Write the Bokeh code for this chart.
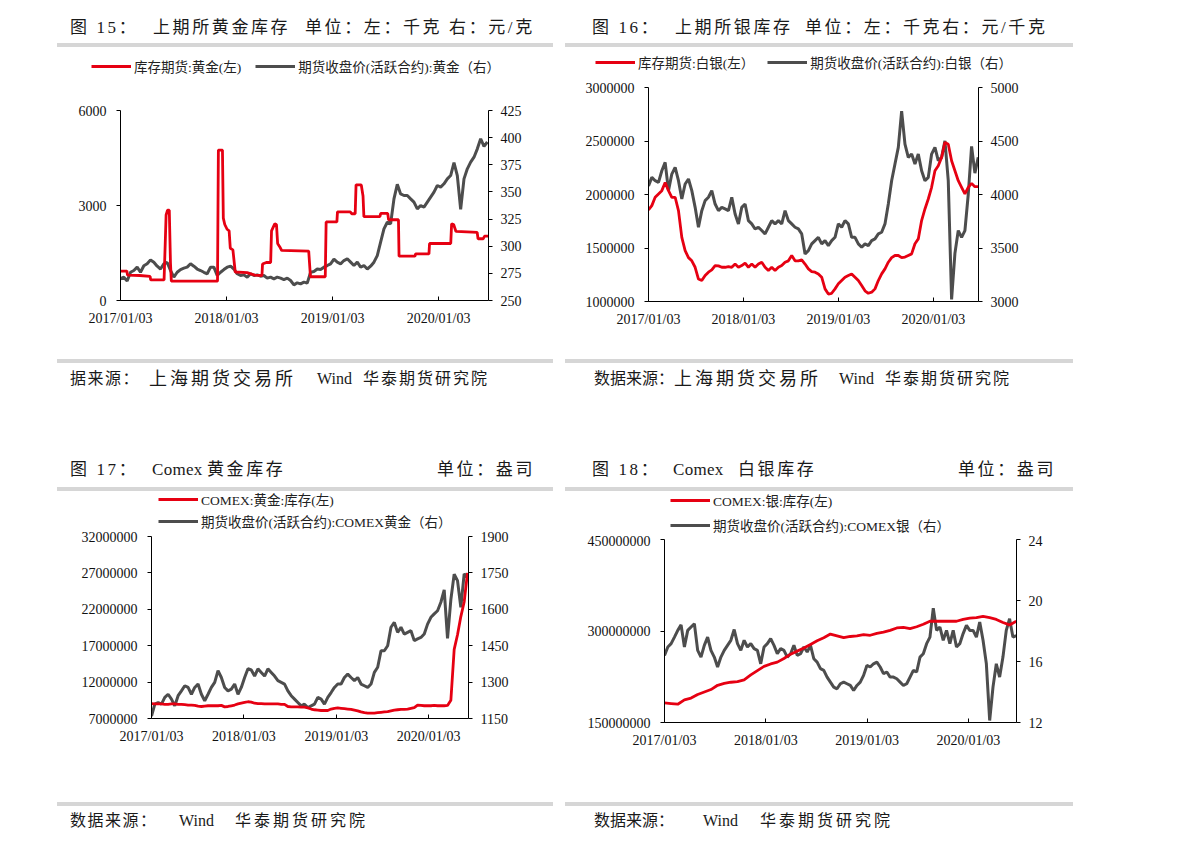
import pandas as pd
from bokeh.plotting import figure
from bokeh.models import (Range1d, LinearAxis, FixedTicker, DatetimeTickFormatter,
                          NumeralTickFormatter, Legend, LegendItem, Div)
from bokeh.layouts import column, row
from bokeh.embed import file_html
from bokeh.resources import INLINE

# ---------------- data ----------------
x_tick_labels = ["2017/01/03", "2018/01/03", "2019/01/03", "2020/01/03"]

# Fig 15: SHFE gold stock (kg, left) and SHFE gold futures close (yuan/g, right)
shfe_gold_stock_dates = [
    "2017-01-03", "2017-01-25", "2017-01-27", "2017-03-10", "2017-04-15", "2017-04-17",
    "2017-06-02", "2017-06-06", "2017-06-09", "2017-06-14", "2017-06-20", "2017-06-24",
    "2017-06-27", "2017-12-03", "2017-12-06", "2017-12-20", "2017-12-23", "2017-12-28",
    "2018-01-05", "2018-01-12", "2018-01-16", "2018-01-25", "2018-02-02", "2018-03-15",
    "2018-04-10", "2018-05-05", "2018-05-07", "2018-05-20", "2018-06-04", "2018-06-07",
    "2018-06-18", "2018-06-24", "2018-06-28", "2018-07-05", "2018-07-12", "2018-10-13",
    "2018-10-19", "2018-12-09", "2018-12-12", "2019-01-18", "2019-01-20", "2019-03-05",
    "2019-03-10", "2019-03-22", "2019-03-25", "2019-04-12", "2019-04-18", "2019-04-21",
    "2019-06-15", "2019-06-18", "2019-07-12", "2019-07-15", "2019-08-18", "2019-08-20",
    "2019-10-14", "2019-10-16", "2019-12-01", "2019-12-03", "2020-02-14", "2020-02-17",
    "2020-02-24", "2020-03-03", "2020-04-28", "2020-05-15", "2020-05-18", "2020-06-05",
    "2020-06-09", "2020-06-22"]
shfe_gold_stock = [
    930, 930, 800, 790, 760, 650,
    650, 1800, 2700, 2850, 2850, 1200,
    610, 610, 4750, 4750, 2600, 2400,
    2250, 2200, 1650, 1600, 900, 880,
    800, 790, 1150, 1200, 1200, 2200,
    2420, 2400, 1800, 1700, 1580, 1560,
    750, 750, 2480, 2480, 2800, 2800,
    2740, 2740, 3650, 3650, 3300, 2650,
    2650, 2750, 2750, 2550, 2550, 1400,
    1400, 1470, 1470, 1800, 1800, 2420,
    2400, 2180, 2160, 2150, 1950, 1950,
    2030, 2030]
shfe_gold_price_span = ("2017-01-03", "2020-06-19")
shfe_gold_price = [
    270, 271.5, 268, 276, 277.6, 280.7, 276, 282, 283.8, 287.4,
    285.3, 281.6, 279, 283.8, 285, 277.6, 271.5, 276, 278.5, 279.8,
    280.7, 283.8, 281.6, 279, 277.6, 276, 274.6, 280.7, 280.7, 273,
    276, 278.5, 280.7, 281.6, 279, 274.6, 273, 273.6, 271.5, 274.6,
    273, 273.6, 272.4, 273, 270.6, 271.5, 270, 271.5, 270.6, 269.3,
    270.6, 268.4, 264.4, 266.3, 265.3, 266.9, 266, 276, 276.7, 279,
    278.5, 280.7, 282.2, 283.8, 288, 285.3, 283.8, 286.8, 288.4, 285.3,
    282.2, 285.3, 280.7, 282.2, 279, 281.6, 285.3, 291.4, 303.7, 316,
    322.1, 320.6, 343.6, 357, 348.2, 346.7, 346.7, 343.6, 340.6, 334.4,
    337.5, 336, 340.6, 345.2, 349.8, 355.9, 354.4, 357.5, 362, 365.1,
    377, 365, 334, 362, 371.3, 377.4, 382, 389.7, 399, 392,
    396]

# Fig 16: SHFE silver stock (kg, left) and SHFE silver futures close (yuan/kg, right)
shfe_silver_span = ("2017-01-03", "2020-06-23")
shfe_silver_stock = [
    1855000, 1896000, 1974000, 2005000, 2036000, 2113000, 2036000, 1974000, 1974000, 1850000,
    1600000, 1476000, 1410000, 1380000, 1320000, 1210000, 1196000, 1243000, 1274000, 1295000,
    1336000, 1333000, 1320000, 1320000, 1327000, 1320000, 1350000, 1320000, 1336000, 1358000,
    1320000, 1350000, 1320000, 1350000, 1367000, 1320000, 1289000, 1320000, 1289000, 1320000,
    1336000, 1367000, 1380000, 1430000, 1380000, 1380000, 1389000, 1350000, 1305000, 1280000,
    1274000, 1258000, 1227000, 1118000, 1070000, 1077000, 1118000, 1165000, 1196000, 1227000,
    1243000, 1258000, 1227000, 1196000, 1149000, 1100000, 1077000, 1087000, 1118000, 1196000,
    1258000, 1305000, 1367000, 1410000, 1430000, 1430000, 1410000, 1415000, 1430000, 1445000,
    1540000, 1585000, 1756000, 1865000, 1958000, 2067000, 2222000, 2269000, 2347000, 2487000,
    2470000, 2316000, 2222000, 2129000, 2067000, 2005000, 2067000, 2104000, 2073000, 2073000]
shfe_silver_price = [
    4080, 4160, 4129, 4114, 4222, 4300, 4036, 4191, 4254, 4129,
    3958, 4098, 4145, 4036, 3880, 3694, 3849, 3943, 3974, 4036,
    3911, 3849, 3880, 3865, 3849, 3974, 3818, 3725, 3880, 3911,
    3756, 3725, 3678, 3694, 3663, 3632, 3694, 3756, 3725, 3756,
    3725, 3849, 3756, 3725, 3694, 3678, 3632, 3445, 3476, 3538,
    3569, 3600, 3538, 3569, 3523, 3569, 3600, 3725, 3694, 3756,
    3725, 3600, 3600, 3538, 3507, 3538, 3523, 3569, 3585, 3632,
    3647, 3725, 3911, 4129, 4285, 4440, 4780, 4471, 4347, 4378,
    4285, 4378, 4222, 4129, 4160, 4378, 4440, 4316, 4347, 4502,
    4129, 3020, 3450, 3663, 3600, 3663, 4000, 4450, 4200, 4347]

# Fig 17: COMEX gold stock (million oz, left) and COMEX gold futures close (right)
comex_gold_span = ("2017-01-03", "2020-06-04")
comex_gold_stock_mn = [
    9.05, 9.0, 9.0, 9.0, 8.95, 8.95, 9.0, 9.0, 8.95, 8.95,
    8.9, 8.85, 8.85, 8.8, 8.7, 8.65, 8.7, 8.75, 8.75, 8.75,
    8.75, 8.8, 8.6, 8.65, 8.75, 8.85, 9.0, 9.1, 9.2, 9.3,
    9.25, 9.1, 9.05, 9.05, 9.0, 9.0, 9.0, 9.0, 9.0, 8.95,
    8.95, 8.65, 8.6, 8.6, 8.6, 8.55, 8.55, 8.45, 8.3, 8.2,
    8.15, 8.1, 8.1, 8.1, 8.3, 8.4, 8.45, 8.4, 8.35, 8.3,
    8.25, 8.15, 8.05, 7.9, 7.8, 7.75, 7.75, 7.75, 7.8, 7.85,
    7.9, 7.95, 8.05, 8.15, 8.2, 8.25, 8.25, 8.3, 8.4, 8.5,
    8.85, 8.8, 8.75, 8.75, 8.75, 8.8, 8.75, 8.75, 8.75, 8.8,
    9.5, 16.5, 18.5, 21.0, 23.0, 27.0]
comex_gold_price = [
    1160, 1209, 1216, 1209, 1237, 1250, 1230, 1202, 1244, 1264,
    1285, 1278, 1250, 1278, 1292, 1250, 1223, 1250, 1278, 1299,
    1347, 1319, 1278, 1264, 1271, 1292, 1250, 1278, 1319, 1355,
    1350, 1325, 1355, 1340, 1325, 1355, 1340, 1325, 1306, 1299,
    1292, 1264, 1244, 1230, 1216, 1202, 1209, 1195, 1202, 1209,
    1237, 1230, 1209, 1237, 1257, 1278, 1292, 1292, 1319, 1333,
    1319, 1306, 1319, 1292, 1285, 1278, 1292, 1340, 1361, 1429,
    1429, 1450, 1526, 1546, 1505, 1526, 1498, 1505, 1512, 1471,
    1478, 1484, 1498, 1539, 1567, 1581, 1594, 1629, 1680, 1480,
    1640, 1745, 1718, 1608, 1746, 1732]

# Fig 18: COMEX silver stock (million oz, left) and COMEX silver futures close (right)
comex_silver_span = ("2017-01-03", "2020-06-23")
comex_silver_stock_mn = [
    182, 181, 180, 187, 190, 196, 200, 204, 211, 214,
    216, 217, 220, 228, 235, 242, 246, 249, 255, 262,
    267, 272, 278, 284, 289, 295, 292, 289, 291, 292,
    294, 293, 296, 298, 301, 305, 306, 304, 307, 311,
    316, 316, 316, 316, 316, 319, 321, 322, 324, 322,
    319, 314, 310, 316]
comex_silver_price = [
    16.4, 16.95, 17.17, 17.6, 18.04, 18.4, 16.95, 18.04, 18.26, 18.48,
    16.73, 16.29, 17.06, 17.6, 16.73, 16.29, 15.64, 16.29, 16.73, 17.06,
    17.39, 18.1, 17.17, 16.73, 17.39, 16.95, 17.17, 16.84, 16.73, 15.85,
    16.95, 17.17, 17.5, 17.06, 16.51, 16.84, 16.73, 16.29, 16.51, 17.06,
    16.4, 16.51, 16.95, 16.62, 17.06, 16.18, 15.96, 15.53, 15.42, 14.98,
    14.65, 14.32, 14.21, 14.54, 14.65, 14.54, 14.43, 14.1, 14.43, 14.65,
    15.09, 15.74, 15.64, 15.85, 15.96, 15.64, 15.2, 15.31, 14.98, 14.98,
    14.87, 14.65, 14.43, 14.54, 14.98, 15.42, 15.31, 16.29, 16.51, 17.17,
    17.6, 19.5, 18.04, 18.26, 17.39, 18.04, 17.17, 18.04, 16.95, 17.17,
    17.83, 18.37, 18.04, 18.04, 17.6, 18.59, 17.39, 15.85, 12.13, 14.32,
    15.85, 14.98, 16.29, 18.04, 18.81, 17.6, 17.7]

# ---------------- styling ----------------
RED = "#e60012"
GRAY = "#4d4d4d"
FONT = "Liberation Serif, Noto Sans CJK SC"
FONT_CSS = "'Liberation Serif','Noto Sans CJK SC',serif"
NAN = float("nan")


def dates_between(span, n):
    return pd.date_range(span[0], span[1], periods=n)


def style_axis(ax, side, standoff):
    ax.axis_line_color = "black"
    ax.axis_line_width = 1
    ax.major_tick_line_color = "black"
    ax.minor_tick_line_color = None
    ax.major_label_text_font = FONT
    ax.major_label_text_font_size = "14px"
    ax.major_label_text_color = "#111111"
    if side == "below":
        ax.major_tick_in = 4
        ax.major_tick_out = 0
    else:
        ax.major_tick_in = 0
        ax.major_tick_out = 4
    ax.major_label_standoff = standoff


def make_fig(width, height, borders, x_end, left_rng, left_ticks, right_rng, right_ticks,
             left_x, left_y, right_x, right_y):
    bl, br, bt, bb = borders
    p = figure(width=width, height=height, x_axis_type="datetime",
               x_range=Range1d(pd.Timestamp("2017-01-03"), pd.Timestamp(x_end)),
               y_range=Range1d(*left_rng), output_backend="svg", toolbar_location=None,
               min_border_left=bl, min_border_right=br, min_border_top=bt, min_border_bottom=bb)
    p.outline_line_color = None
    p.xgrid.visible = False
    p.ygrid.visible = False
    p.background_fill_color = "white"
    p.border_fill_color = "white"
    p.extra_y_ranges = {"right": Range1d(*right_rng)}
    rax = LinearAxis(y_range_name="right")
    p.add_layout(rax, "right")

    tick_ms = [pd.Timestamp(t.replace("/", "-")).value // 10**6 for t in x_tick_labels]
    p.xaxis.ticker = FixedTicker(ticks=tick_ms)
    p.xaxis.formatter = DatetimeTickFormatter(years="%Y/%m/%d", months="%Y/%m/%d",
                                              days="%Y/%m/%d", hours="%Y/%m/%d")
    p.yaxis[0].ticker = FixedTicker(ticks=left_ticks)
    p.yaxis[0].formatter = NumeralTickFormatter(format="0")
    rax.ticker = FixedTicker(ticks=right_ticks)
    rax.formatter = NumeralTickFormatter(format="0")
    style_axis(p.xaxis[0], "below", 10)
    style_axis(p.yaxis[0], "left", 10)
    style_axis(rax, "right", 8)

    p.line(right_x, right_y, line_color=GRAY, line_width=3, y_range_name="right")
    p.line(left_x, left_y, line_color=RED, line_width=2.8)
    return p


def legend_fig(width, height, labels, loc, orientation, spacing):
    q = figure(width=width, height=height, output_backend="svg", toolbar_location=None,
               x_axis_location=None, y_axis_location=None, min_border=0,
               x_range=Range1d(0, 1), y_range=Range1d(0, 1))
    q.outline_line_color = None
    q.xgrid.visible = False
    q.ygrid.visible = False
    r1 = q.line([NAN], [NAN], line_color=RED, line_width=2.8)
    r2 = q.line([NAN], [NAN], line_color=GRAY, line_width=3)
    leg = Legend(items=[LegendItem(label=labels[0], renderers=[r1]),
                        LegendItem(label=labels[1], renderers=[r2])],
                 location=loc, orientation=orientation)
    leg.glyph_width = 40
    leg.glyph_height = 14
    leg.label_height = 14
    leg.label_standoff = 3
    leg.spacing = spacing
    leg.padding = 0
    leg.margin = 0
    leg.border_line_color = None
    leg.background_fill_alpha = 0
    leg.label_text_font = FONT
    leg.label_text_font_size = "13.5px"
    leg.label_text_color = "#222222"
    q.add_layout(leg)
    return row(q, spacing=0)


def text_div(width, height, bar_top, bar_left, bar_width, text_center, segs):
    html = (f'<div style="position:relative;width:{width}px;height:{height}px;'
            f'font-family:{FONT_CSS};color:#1a1a1a;">')
    html += (f'<div style="position:absolute;left:{bar_left}px;top:{bar_top}px;'
             f'width:{bar_width}px;height:4px;background:#d6d6d6;"></div>')
    lh = 22
    for txt, left, size, sp in segs:
        html += (f'<div style="position:absolute;left:{left}px;top:{text_center - lh / 2}px;'
                 f'line-height:{lh}px;font-size:{size}px;letter-spacing:{sp}px;'
                 f'white-space:nowrap;">{txt}</div>')
    html += '</div>'
    return Div(text=html, width=width, height=height, margin=0)


WL, WR = 552, 520

# ---------- panel 15 ----------
t15 = text_div(WL, 40, 35, 49, 496, 20,
               [("图 15：", 62, 17, 2.6), ("上期所黄金库存", 145, 17, 2.6),
                ("单位：左：千克 右：元/克", 297, 17, 2.6)])
l15 = legend_fig(WL, 30, ["库存期货:黄金(左)", "期货收盘价(活跃合约):黄金（右）"],
                 (83, 2), "horizontal", 14)
p15 = make_fig(WL, 272, (112, 72, 32, 50), "2020-06-23",
               (0, 6000), [0, 3000, 6000], (250, 425), [250, 275, 300, 325, 350, 375, 400, 425],
               pd.to_datetime(shfe_gold_stock_dates), shfe_gold_stock,
               dates_between(shfe_gold_price_span, len(shfe_gold_price)), shfe_gold_price)
f15 = text_div(WL, 100, 9, 49, 496, 29,
               [("据来源：", 62, 16, 1.5), ("上海期货交易所", 141, 18, 3), ("Wind", 309, 16, 0),
                ("华泰期货研究院", 355, 16, 2)])

# ---------- panel 16 ----------
t16 = text_div(WR, 40, 35, 5, 508, 20,
               [("图 16：", 32, 17, 2.6), ("上期所银库存", 115, 17, 2.6),
                ("单位：左：千克右：元/千克", 245, 17, 2.6)])
l16 = legend_fig(WR, 30, ["库存期货:白银(左）", "期货收盘价(活跃合约):白银（右）"],
                 (35, 6), "horizontal", 13)
p16 = make_fig(WR, 272, (88, 102, 9, 49), "2020-06-24",
               (1000000, 3000000), [1000000, 1500000, 2000000, 2500000, 3000000],
               (3000, 5000), [3000, 3500, 4000, 4500, 5000],
               dates_between(shfe_silver_span, len(shfe_silver_stock)), shfe_silver_stock,
               dates_between(shfe_silver_span, len(shfe_silver_price)), shfe_silver_price)
f16 = text_div(WR, 100, 9, 5, 508, 29,
               [("数据来源：", 34, 16, 0), ("上海期货交易所", 114, 18, 3), ("Wind", 279, 16, 0),
                ("华泰期货研究院", 325, 16, 2)])

# ---------- panel 17 ----------
t17 = text_div(WL, 41, 37, 49, 496, 20,
               [("图 17：", 62, 17, 2.6), ("Comex", 144, 17, 0.3), ("黄金库存", 199, 17, 2.6),
                ("单位：盎司", 429, 17, 2.6)])
l17 = legend_fig(WL, 40, ["COMEX:黄金:库存(左)", "期货收盘价(活跃合约):COMEX黄金（右）"],
                 (150, 0), "vertical", 2)
p17 = make_fig(WL, 264, (143, 92, 5, 77), "2020-06-08",
               (7000000, 32000000), [7000000, 12000000, 17000000, 22000000, 27000000, 32000000],
               (1150, 1900), [1150, 1300, 1450, 1600, 1750, 1900],
               dates_between(comex_gold_span, len(comex_gold_stock_mn)),
               [v * 1e6 for v in comex_gold_stock_mn],
               dates_between(comex_gold_span, len(comex_gold_price)), comex_gold_price)
f17 = text_div(WL, 45, 7, 49, 496, 26,
               [("数据来源：", 62, 16, 1.5), ("Wind", 171, 16, 0), ("华泰期货研究院", 227, 16, 3)])

# ---------- panel 18 ----------
t18 = text_div(WR, 41, 37, 5, 508, 20,
               [("图 18：", 32, 17, 2.6), ("Comex", 113, 17, 0.3), ("白银库存", 178, 17, 2.6),
                ("单位：盎司", 398, 17, 2.6)])
l18 = legend_fig(WR, 44, ["COMEX:银:库存(左)", "期货收盘价(活跃合约):COMEX银（右）"],
                 (110, 0), "vertical", 5)
p18 = make_fig(WR, 260, (104, 64, 4, 73), "2020-06-24",
               (150000000, 450000000), [150000000, 300000000, 450000000],
               (12, 24), [12, 16, 20, 24],
               dates_between(comex_silver_span, len(comex_silver_stock_mn)),
               [v * 1e6 for v in comex_silver_stock_mn],
               dates_between(comex_silver_span, len(comex_silver_price)), comex_silver_price)
f18 = text_div(WR, 45, 7, 5, 508, 26,
               [("数据来源：", 34, 16, 0), ("Wind", 143, 16, 0), ("华泰期货研究院", 200, 16, 3)])

layout = column(
    row(column(t15, l15, p15, f15, spacing=0), column(t16, l16, p16, f16, spacing=0), spacing=0),
    row(column(t17, l17, p17, f17, spacing=0), column(t18, l18, p18, f18, spacing=0), spacing=0),
    spacing=0, margin=(8, 0, 0, 8))

open("out.html", "w").write(file_html(layout, INLINE))
